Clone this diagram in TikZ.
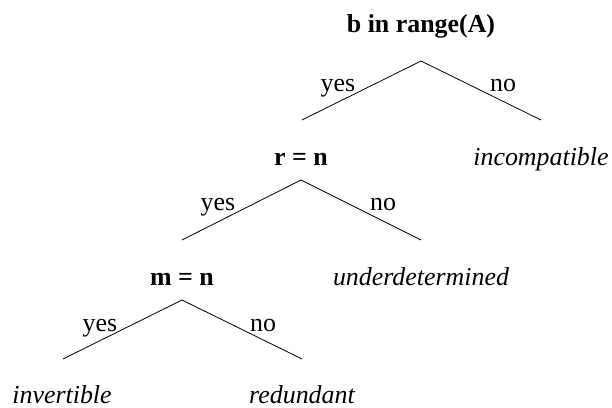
\documentclass[tikz,border=0pt]{standalone}
\usepackage{fontspec}
\setmainfont{Liberation Serif}
\usepackage{tikz}
\usetikzlibrary{positioning}

\begin{document}
\begin{tikzpicture}[
  x=1bp, y=1bp, font=\fontsize{26}{31}\selectfont,
  q/.style={inner sep=0pt, anchor=base, font=\fontsize{26}{31}\selectfont\bfseries},
  leaf/.style={inner sep=0pt, anchor=base, font=\fontsize{26}{31}\selectfont\itshape},
  ans/.style={inner sep=0pt, anchor=base},
  br/.style={line width=0.8pt}
]
\useasboundingbox (0,0) rectangle (612,407);

% level 1
\node[q] (range) at (421,375) {b in range(A)};
\coordinate (a1) at (421,346);
\coordinate (l1) at (302,287);
\coordinate (r1) at (541,287);
\node[ans] (yes1) at (338,316) {yes};
\node[ans] (no1) at (503,316) {no};

% level 2
\node[q] (rn) at (301,242) {r = n};
\node[leaf] (incomp) at (541,242) {incompatible};
\coordinate (a2) at (301,227);
\coordinate (l2) at (182,167);
\coordinate (r2) at (421,167);
\node[ans] (yes2) at (218,197) {yes};
\node[ans] (no2) at (383,197) {no};

% level 3
\node[q] (mn) at (182,122) {m = n};
\node[leaf] (under) at (421,122) {underdetermined};
\coordinate (a3) at (182,107);
\coordinate (l3) at (63,48);
\coordinate (r3) at (302,48);
\node[ans] (yes3) at (100,76) {yes};
\node[ans] (no3) at (263,76) {no};

% leaves
\node[leaf] (inv) at (62,4) {invertible};
\node[leaf] (red) at (302,4) {redundant};

\draw[br] (l1)--(a1)--(r1);
\draw[br] (l2)--(a2)--(r2);
\draw[br] (l3)--(a3)--(r3);
\end{tikzpicture}
\end{document}
